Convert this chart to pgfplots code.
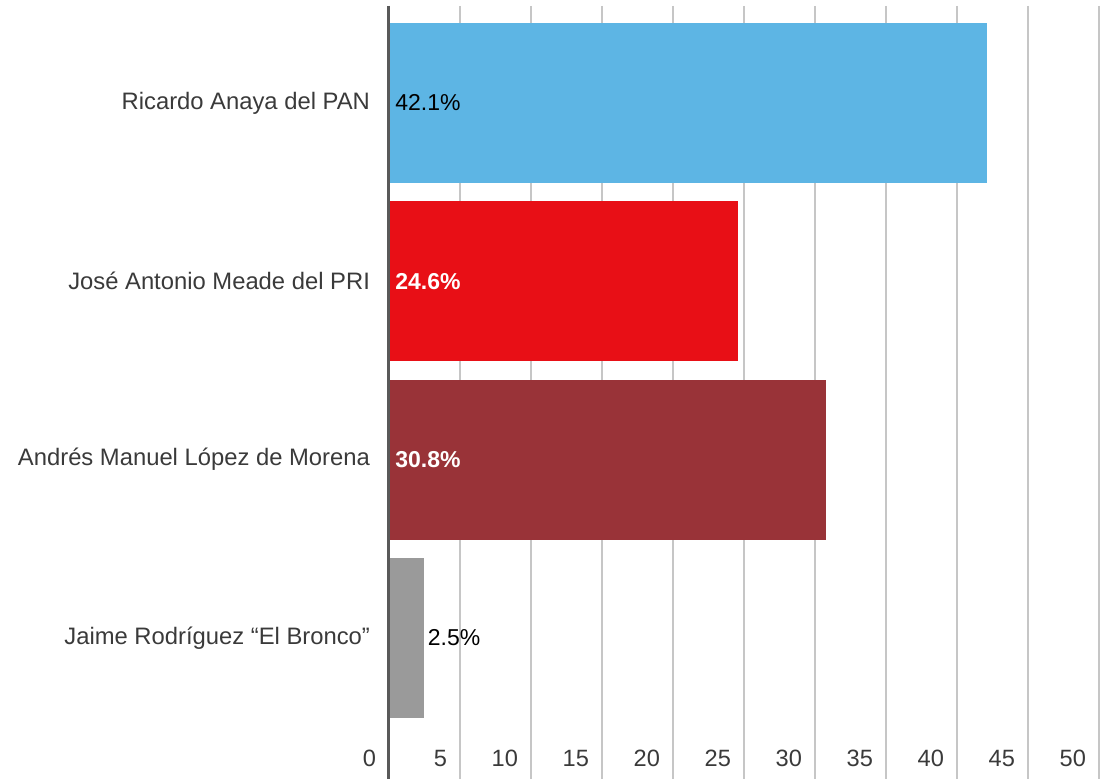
\documentclass[border=0pt]{standalone}
\usepackage{fontspec}
\setmainfont{Liberation Sans}
\usepackage{pgfplots}
\pgfplotsset{compat=1.18}
\definecolor{panblue}{HTML}{5DB5E4}
\definecolor{prired}{HTML}{E80F16}
\definecolor{morena}{HTML}{993338}
\definecolor{bronco}{HTML}{9A9A9A}
\definecolor{txt}{HTML}{3A3A3A}
\definecolor{gridc}{HTML}{C6C6C6}
\begin{document}
\begin{tikzpicture}[x=0.5pt,y=0.5pt]
\begin{axis}[
  scale only axis, width=355pt, height=386.5pt,
  xmin=0, xmax=50, ymin=-0.544, ymax=3.791, y dir=reverse,
  xbar, bar width=0.897, clip=false,
  xtick={0,5,...,50}, ytick={0,1,2,3},
  yticklabels={Ricardo Anaya del PAN, José Antonio Meade del PRI,
    Andrés Manuel López de Morena, Jaime Rodríguez “El Bronco”},
  major tick length=0pt,
  xmajorgrids, grid style={gridc, line width=1pt},
  axis line style={draw=none},
  xticklabel style={anchor=east, yshift=10.5pt, xshift=-3pt,
    font=\fontsize{11.8}{13}\selectfont, text=txt},
  yticklabel style={anchor=east, xshift=-6pt,
    font=\fontsize{11.9}{13}\selectfont, text=txt},
  /pgf/number format/assume math mode=true,
  every axis plot/.append style={draw=none, bar shift=0pt},
]
\addplot[fill=panblue] coordinates {(42.1,0)};
\addplot[fill=prired] coordinates {(24.6,1)};
\addplot[fill=morena] coordinates {(30.8,2)};
\addplot[fill=bronco] coordinates {(2.5,3)};
\draw[color=black!65, line width=1.5pt] (axis cs:0,-0.544) -- (axis cs:0,3.791);
\node[anchor=west, inner sep=0pt, xshift=3pt, font=\fontsize{11.5}{13}\selectfont] at (axis cs:0,0) {42.1\%};
\node[anchor=west, inner sep=0pt, xshift=3pt, text=white, font=\fontsize{11.5}{13}\selectfont\bfseries] at (axis cs:0,1) {24.6\%};
\node[anchor=west, inner sep=0pt, xshift=3pt, text=white, font=\fontsize{11.5}{13}\selectfont\bfseries] at (axis cs:0,2) {30.8\%};
\node[anchor=west, inner sep=0pt, xshift=1.5pt, font=\fontsize{11.5}{13}\selectfont] at (axis cs:2.5,3) {2.5\%};
\end{axis}
\pgfresetboundingbox
\path (current axis.south west) ++(-389,0) rectangle ++(1114,779);
\end{tikzpicture}
\end{document}
